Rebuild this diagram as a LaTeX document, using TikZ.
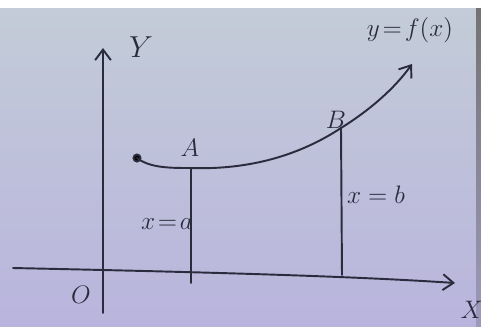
\documentclass[tikz,border=0pt]{standalone}
\usetikzlibrary{arrows.meta}
\definecolor{ink}{HTML}{2B2B3E}
\definecolor{papertop}{HTML}{C3CCD8}
\definecolor{paperbot}{HTML}{B9B4DD}
\tikzset{
  ink/.style={draw=ink, line width=1.1pt, line cap=round},
  lbl/.style={text=ink, font=\Large, inner sep=1pt},
  axisarrow/.style={ink, -{Straight Barb[length=6pt,width=9pt]}},
}
\begin{document}
\begin{tikzpicture}[x=0.02cm,y=-0.02cm]
\useasboundingbox (0,0) rectangle (481,326);
% paper
\fill[white] (0,0) rectangle (481,326);
\shade[top color=papertop, bottom color=paperbot] (0,8) rectangle (481,326);
\shade[top color=black!55, bottom color=paperbot!85!black] (476,8) rectangle (481,326);
% axes
\coordinate (xs) at (13,268);
\coordinate (xe) at (455,283);
\coordinate (ys) at (103,313);
\coordinate (ye) at (103,48);
\draw[axisarrow] (xs) .. controls (200,272) and (350,276) .. (xe);
\draw[axisarrow] (ys) -- (ye);
% curve points
\coordinate (c0) at (137,158);
\coordinate (pa) at (191,168);
\coordinate (pb) at (341,128);
\coordinate (c1) at (412,64);
\fill[ink] (c0) circle (2pt);
\draw[ink] (c0) .. controls (150,168) and (170,168) .. (pa)
  .. controls (250,170) and (300,155) .. (pb);
\draw[axisarrow] (pb) .. controls (370,110) and (395,88) .. (c1);
% ordinates
\coordinate (fa) at (191,283);
\coordinate (fb) at (342,275);
\draw[ink] (pa) -- (fa);
\draw[ink] (pb) -- (fb);
% labels
\node[lbl, font=\LARGE] (ly) at (141,47) {$Y$};
\node[lbl] (lx) at (472,310) {$X$};
\node[lbl] (lo) at (81,295) {$O$};
\node[lbl] (la) at (190,148) {$A$};
\node[lbl] (lb) at (336,120) {$B$};
\node[lbl] (lxa) at (167,224) {$x\!=\!a$};
\node[lbl] (lxb) at (376,195) {$x=b$};
\node[lbl] (lf) at (410,30) {$y\!=\!f(x)$};
\end{tikzpicture}
\end{document}
